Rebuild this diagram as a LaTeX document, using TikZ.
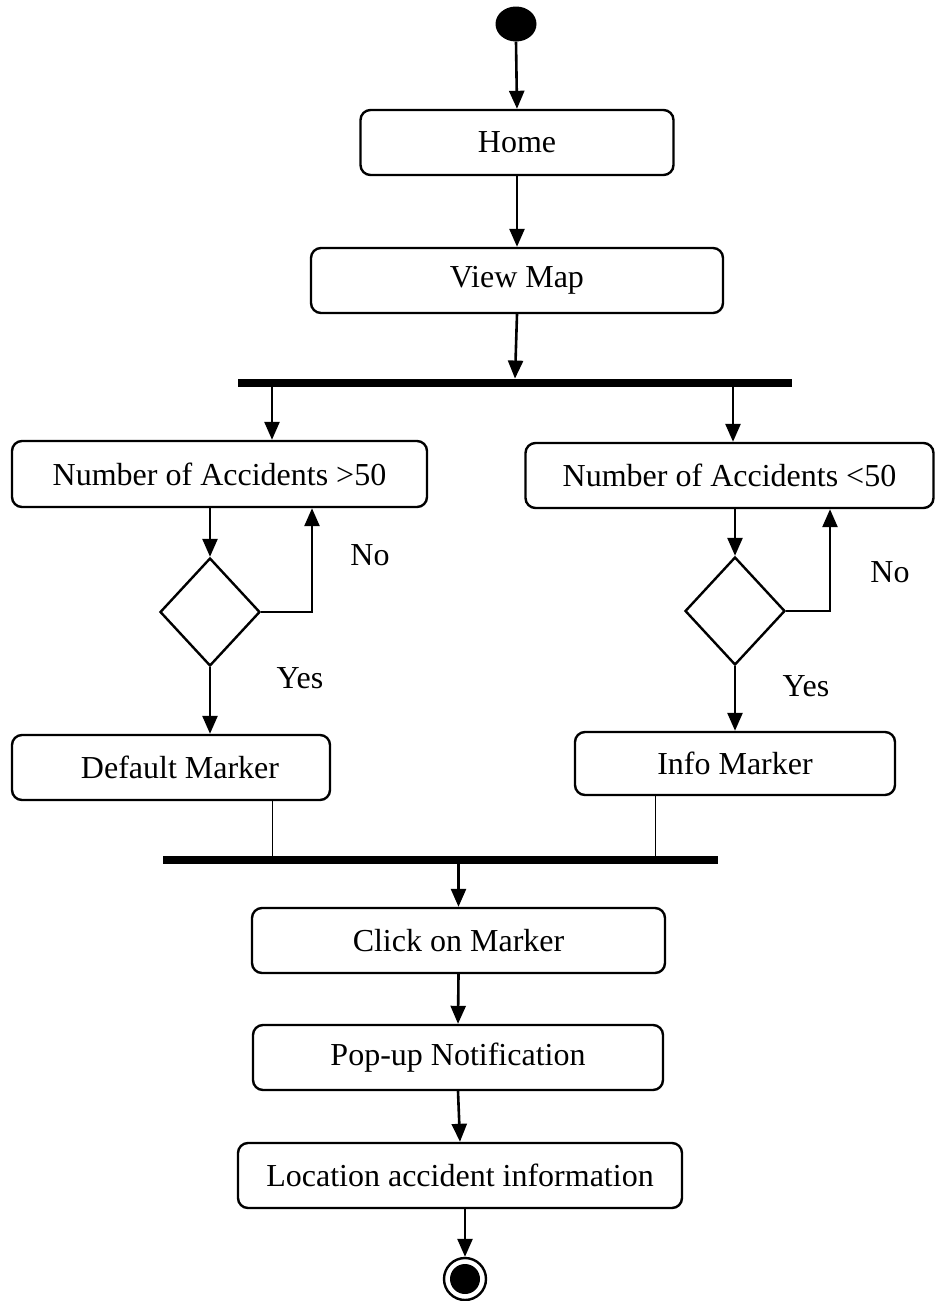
\documentclass[tikz,border=0pt]{standalone}
\usepackage{fontspec}
\setmainfont{Liberation Serif}
\usetikzlibrary{arrows.meta,shapes.geometric}
\begin{document}
\begin{tikzpicture}[x=1pt,y=-1pt,
  every node/.style={font=\fontsize{32}{38}\selectfont},
  act/.style={draw,line width=2.4pt,rounded corners=10pt,inner sep=0pt},
  bar/.style={fill=black,inner sep=0pt,minimum height=8.5pt},
  choice/.style={draw,diamond,line width=2.4pt,inner sep=0pt,minimum width=100pt,minimum height=108pt},
  flow/.style={line width=2.6pt,-{Triangle[length=18pt,width=15pt]}},
  thin/.style={line width=1pt},
  lbl/.style={inner sep=0pt}]
\useasboundingbox (0,0) rectangle (935,1301);
% initial and final states
\node[fill=black,ellipse,inner sep=0pt,minimum width=41pt,minimum height=35pt] (start) at (516,24) {};
\node[draw,circle,line width=2.4pt,inner sep=0pt,minimum size=42pt] (stop) at (465,1279) {};
\fill (stop.center) circle (15);
% activities
\node[act,minimum width=313pt,minimum height=65pt] (home) at (517,142.5) {Home};
\node[act,minimum width=412pt,minimum height=65pt] (map) at (517,280.5) {View Map};
\node[bar,minimum width=554pt] (fork) at (515,383) {};
\node[act,minimum width=415pt,minimum height=66pt] (gt) at (219.5,474) {Number of Accidents >50};
\node[act,minimum width=408pt,minimum height=65pt] (lt) at (729.5,475.5) {Number of Accidents <50};
\node[choice] (dl) at (210,612) {};
\node[choice] (dr) at (735,611) {};
\node[act,minimum width=318pt,minimum height=65pt] (def) at (171,767.5) {\hspace*{18pt}Default Marker};
\node[act,minimum width=320pt,minimum height=63pt] (info) at (735,763.5) {Info Marker};
\node[bar,minimum width=555pt] (join) at (440.5,860) {};
\node[act,minimum width=413pt,minimum height=65pt] (click) at (458.5,940.5) {Click on Marker};
\node[act,minimum width=410pt,minimum height=65pt] (popup) at (458,1057.5) {Pop-up Notification};
\node[act,minimum width=444pt,minimum height=65pt] (loc) at (460,1175.5) {Location accident information};
% guard labels
\node[lbl] at (370,555) {No};
\node[lbl] at (300,678) {Yes};
\node[lbl] at (890,572) {No};
\node[lbl] at (806,686) {Yes};
% connector end points
\coordinate (gtIn) at (272,0);
\coordinate (ltIn) at (733,0);
\coordinate (gtBack) at (312,0);
\coordinate (ltBack) at (830,0);
\coordinate (defOut) at (272,0);
\coordinate (infoOut) at (655,0);
% flows
\draw[flow] (start.south) -- (home.north);
\draw[flow] (home.south) -- (map.north);
\draw[flow] (map.south) -- (fork.north);
\draw[flow] (fork.south -| gtIn) -- (gt.north -| gtIn);
\draw[flow] (fork.south -| ltIn) -- (lt.north -| ltIn);
\draw[flow] (gt.south -| dl.north) -- (dl.north);
\draw[flow] (lt.south -| dr.north) -- (dr.north);
\draw[flow] (dl.east) -| (gt.south -| gtBack);
\draw[flow] (dr.east) -| (lt.south -| ltBack);
\draw[flow] (dl.south) -- (def.north -| dl.south);
\draw[flow] (dr.south) -- (info.north -| dr.south);
\draw[thin] (def.south -| defOut) -- (join.north -| defOut);
\draw[thin] (info.south -| infoOut) -- (join.north -| infoOut);
\draw[flow] (join.south -| click.north) -- (click.north);
\draw[flow] (click.south) -- (popup.north);
\draw[flow] (popup.south) -- (loc.north);
\draw[flow] (loc.south -| stop.north) -- (stop.north);
\end{tikzpicture}
\end{document}
